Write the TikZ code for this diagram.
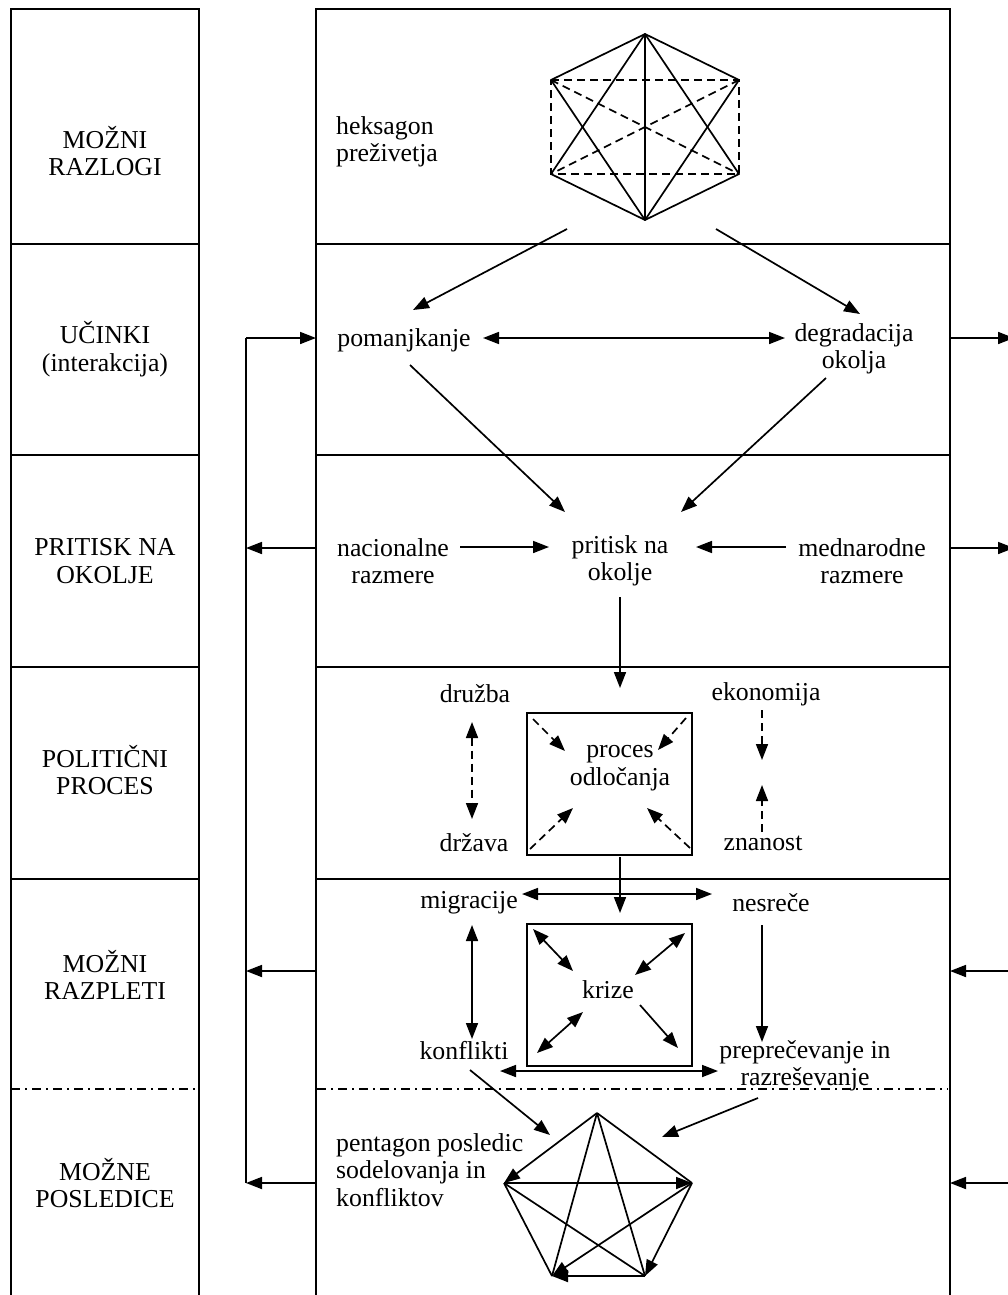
\documentclass[tikz,border=0pt]{standalone}
\usepackage{fontspec}
\setmainfont{Liberation Serif}
\usetikzlibrary{arrows.meta}
\begin{document}
\begin{tikzpicture}[x=1pt,y=-1pt,
  frame/.style={line width=2pt},
  conn/.style={line width=1.7pt},
  tip/.tip={Triangle[length=16pt,width=12pt]},
  arr/.style={conn,-tip},
  dbl/.style={conn,tip-tip},
  dsh/.style={dash pattern=on 8pt off 5pt},
  dashdot/.style={line width=1.3pt,dash pattern=on 9pt off 5pt on 2pt off 5pt},
  lbl/.style={font=\fontsize{25.8}{27.5}\selectfont, align=center, inner sep=0pt},
  lbll/.style={lbl, align=left, anchor=west}]

\useasboundingbox (0,0) rectangle (1008,1295);
\clip (0,0) rectangle (1008,1295);

% --- the two columns and their rows ---
\draw[frame] (11,1295) -- (11,9) -- (199,9) -- (199,1295);
\draw[frame] (316,1295) -- (316,9) -- (950,9) -- (950,1295);
\foreach \y in {244,455,667,879} {
  \draw[frame] (11,\y) -- (199,\y);
  \draw[frame] (316,\y) -- (950,\y);
}
\draw[dashdot] (11,1089) -- (199,1089);
\draw[dashdot] (317,1089) -- (948,1089);

% --- row headings ---
\node[lbl] (h1) at (105,151) {MOŽNI\\RAZLOGI};
\node[lbl] (h2) at (105,349) {UČINKI\\(interakcija)};
\node[lbl] (h3) at (105,561) {PRITISK NA\\OKOLJE};
\node[lbl] (h4) at (105,770) {POLITIČNI\\PROCES};
\node[lbl] (h5) at (105,975) {MOŽNI\\RAZPLETI};
\node[lbl] (h6) at (105,1183) {MOŽNE\\POSLEDICE};

% --- texts in the main column ---
\node[lbll] (hex) at (336,142) {heksagon\\preživetja};
\node[lbl] (pom) at (404,340) {pomanjkanje};
\node[lbl] (deg) at (854,349) {degradacija\\okolja};
\node[lbl] (nac) at (393,561) {nacionalne\\razmere};
\node[lbl] (pri) at (620,561) {pritisk na\\okolje};
\node[lbl] (med) at (862,561) {mednarodne\\razmere};
\node[lbl] (dru) at (475,694) {družba};
\node[lbl] (eko) at (766,694) {ekonomija};
\node[lbl] (pro) at (620,768) {proces\\odločanja};
\node[lbl] (drz) at (474,843) {država};
\node[lbl] (zna) at (763,843) {znanost};
\node[lbl] (mig) at (469,903) {migracije};
\node[lbl] (nes) at (771,903) {nesreče};
\node[lbl] (kri) at (608,990) {krize};
\node[lbl] (kon) at (464,1051) {konflikti};
\node[lbl] (pre) at (805,1066) {preprečevanje in\\razreševanje};
\node[lbll] (pen) at (336,1170) {pentagon posledic\\sodelovanja in\\konfliktov};

% --- boxes round the two central texts ---
\node[frame, draw, minimum width=165pt, minimum height=142pt, inner sep=0pt] (pbox) at (609.5,784) {};
\node[frame, draw, minimum width=165pt, minimum height=142pt, inner sep=0pt] (kbox) at (609.5,995) {};

% --- hexagon of survival ---
\coordinate (hT) at (645,34);
\coordinate (hUL) at (551,80);
\coordinate (hUR) at (739,80);
\coordinate (hLL) at (551,174);
\coordinate (hLR) at (739,174);
\coordinate (hB) at (645,220);
\draw[conn, line join=round] (hT) -- (hUL) -- (hB) -- (hUR) -- cycle;
\draw[conn, line join=round] (hT) -- (hLL) -- (hB) -- (hLR) -- cycle;
\draw[conn] (hT) -- (hB);
\draw[conn, dsh] (hUL) -- (hUR) -- (hLR) -- (hLL) -- cycle;
\draw[conn, dsh] (hUL) -- (hLR);
\draw[conn, dsh] (hUR) -- (hLL);

% --- pentagon of consequences ---
\coordinate (pT) at (597,1113);
\coordinate (pL) at (504,1183);
\coordinate (pR) at (692,1183);
\coordinate (pBL) at (552,1276);
\coordinate (pBR) at (645,1276);
\draw[arr] (pT) -- (pL);
\draw[conn] (pT) -- (pR);
\draw[arr] (pL) -- (pR);
\draw[arr] (pR) -- (pBR);
\draw[arr] (pR) -- (pBL);
\draw[arr] (pBR) -- (pBL);
\draw[conn] (pL) -- (pBL);
\draw[conn] (pL) -- (pBR);
\draw[conn] (pT) -- (pBL);
\draw[conn] (pT) -- (pBR);

% --- connector end points ---
\coordinate (hexOutL) at (567,229);
\coordinate (hexOutR) at (716,229);
\coordinate (pomIn) at (413,310);
\coordinate (degIn) at (860,314);
\coordinate (pomE) at (483,338);
\coordinate (degW) at (785,338);
\coordinate (pomS) at (410,365);
\coordinate (degS) at (826,378);
\coordinate (priNW) at (565,512);
\coordinate (priNE) at (681,512);
\coordinate (nacE) at (460,547);
\coordinate (priW) at (549,547);
\coordinate (medW) at (786,547);
\coordinate (priE) at (696,547);
\coordinate (priS) at (620,597);
\coordinate (proN) at (620,688);
\coordinate (proS) at (620,857);
\coordinate (kriN) at (620,913);
\coordinate (druS) at (472,722);
\coordinate (drzN) at (472,819);
\coordinate (ekoS) at (762,710);
\coordinate (ekoT) at (762,760);
\coordinate (znaN) at (762,832);
\coordinate (znaT) at (762,785);
\coordinate (migE) at (522,894);
\coordinate (nesW) at (712,894);
\coordinate (migS) at (472,925);
\coordinate (konN) at (472,1039);
\coordinate (nesS) at (762,925);
\coordinate (preN) at (762,1042);
\coordinate (konE) at (500,1071);
\coordinate (preW) at (718,1071);
\coordinate (konS) at (470,1070);
\coordinate (penNW) at (550,1135);
\coordinate (preS) at (758,1098);
\coordinate (penNE) at (662,1137);

\draw[arr] (hexOutL) -- (pomIn);
\draw[arr] (hexOutR) -- (degIn);
\draw[dbl] (pomE) -- (degW);
\draw[arr] (pomS) -- (priNW);
\draw[arr] (degS) -- (priNE);
\draw[arr] (nacE) -- (priW);
\draw[arr] (medW) -- (priE);
\draw[arr] (priS) -- (proN);
\draw[arr] (proS) -- (kriN);

% political process: dashed influences
\draw[dbl, dsh] (druS) -- (drzN);
\draw[arr, dsh] (ekoS) -- (ekoT);
\draw[arr, dsh] (znaN) -- (znaT);
\draw[arr, dsh] (533,719) -- (565,751);
\draw[arr, dsh] (686,718) -- (658,750);
\draw[arr, dsh] (530,849) -- (573,808);
\draw[arr, dsh] (690,848) -- (647,808);

% possible outcomes
\draw[dbl] (migE) -- (nesW);
\draw[dbl] (migS) -- (konN);
\draw[arr] (nesS) -- (preN);
\draw[dbl] (konE) -- (preW);
\draw[dbl] (533,929) -- (573,971);
\draw[dbl] (685,933) -- (635,975);
\draw[dbl] (537,1053) -- (583,1012);
\draw[arr] (640,1005) -- (678,1048);
\draw[arr] (konS) -- (penNW);
\draw[arr] (preS) -- (penNE);

% --- feedback on the left ---
\coordinate (fbT) at (246,338);
\coordinate (fbB) at (246,1183);
\draw[frame] (fbT) -- (fbB);
\draw[arr] (fbT) -- (316,338);
\draw[arr] (316,548) -- (246,548);
\draw[arr] (316,971) -- (246,971);
\draw[arr] (316,1183) -- (fbB);

% --- links on the right ---
\draw[arr] (950,338) -- (1014,338);
\draw[arr] (950,548) -- (1014,548);
\draw[arr] (1008,971) -- (950,971);
\draw[arr] (1008,1183) -- (950,1183);
\end{tikzpicture}
\end{document}
